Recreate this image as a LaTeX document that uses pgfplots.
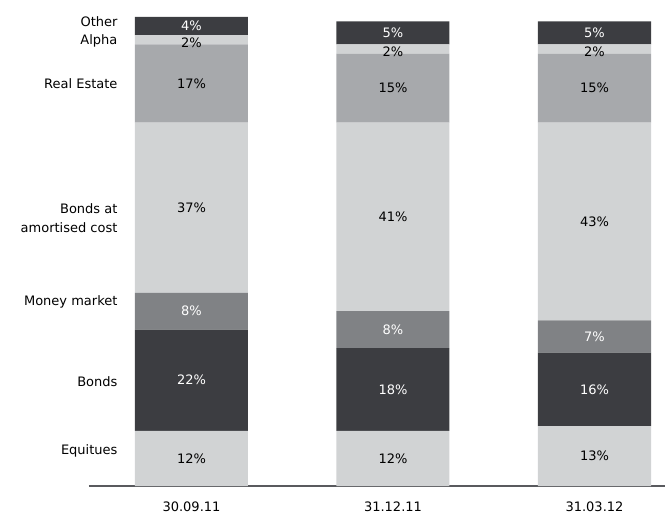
\documentclass[border=0pt]{standalone}
\usepackage{pgfplots}
\pgfplotsset{compat=1.18}
\usepackage{pgfplotstable}
\usepackage{fontspec}
\setmainfont{DejaVu Sans}
\definecolor{dk}{HTML}{3C3D41}
\definecolor{md}{HTML}{808285}
\definecolor{lm}{HTML}{A7A9AC}
\definecolor{lt}{HTML}{D1D3D4}
\pgfplotstableread{
x eq bo mm ba re al ot
0 12 22 8 37 17 2 4
1 12 18 8 41 15 2 5
2 13 16 7 43 15 2 5
}\data
\begin{document}
\begin{tikzpicture}[font=\fontsize{13}{19}\selectfont]
\begin{axis}[
  anchor=origin, at={(0,0)},
  x=201.5pt, y=4.6pt,
  xmin=-0.509, xmax=2.35, ymin=0, ymax=102,
  ybar stacked, bar width=113pt,
  axis x line=bottom, axis y line=none,
  x axis line style={-, line width=1.6pt, color=dk!85},
  xtick=data, xticklabels={30.09.11,31.12.11,31.03.12},
  major tick length=0pt,
  xticklabel style={yshift=-12.5pt},
  ytick=\empty,
  clip=false,
  point meta=explicit symbolic,
  nodes near coords={\pgfplotspointmeta\%},
  every node near coord/.append style={anchor=center, font=\fontsize{13}{16}\selectfont},
]
\addplot[fill=lt, draw=none, nodes near coords style={text=black}] table[x=x, y=eq, meta=eq] {\data};
\addplot[fill=dk, draw=none, nodes near coords style={text=white}] table[x=x, y=bo, meta=bo] {\data};
\addplot[fill=md, draw=none, nodes near coords style={text=white}] table[x=x, y=mm, meta=mm] {\data};
\addplot[fill=lt, draw=none, nodes near coords style={text=black}] table[x=x, y=ba, meta=ba] {\data};
\addplot[fill=lm, draw=none, nodes near coords style={text=black}] table[x=x, y=re, meta=re] {\data};
\addplot[fill=lt, draw=none, nodes near coords style={text=black, yshift=-3pt}] table[x=x, y=al, meta=al] {\data};
\addplot[fill=dk, draw=none, nodes near coords style={text=white}] table[x=x, y=ot, meta=ot] {\data};
\node[anchor=east] at (axis cs:-0.35,100.9) {Other};
\node[anchor=east] at (axis cs:-0.35,96.7) {Alpha};
\node[anchor=east] at (axis cs:-0.35,87.4) {Real Estate};
\node[anchor=east, align=right] at (axis cs:-0.35,58.3) {Bonds at\\amortised cost};
\node[anchor=east] at (axis cs:-0.35,40) {Money market};
\node[anchor=east] at (axis cs:-0.35,22.6) {Bonds};
\node[anchor=east] at (axis cs:-0.35,7.6) {Equitues};
\end{axis}
\pgfresetboundingbox
\useasboundingbox (-191.5pt,-29pt) rectangle (473.5pt,486pt);
\end{tikzpicture}
\end{document}
